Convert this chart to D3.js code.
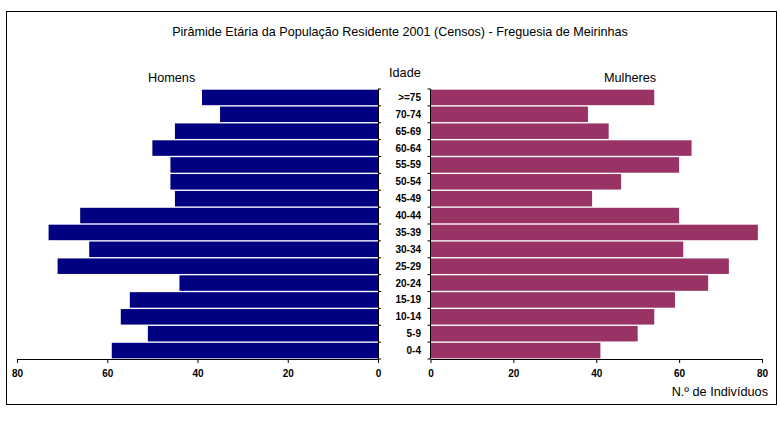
<!DOCTYPE html>
<html><head><meta charset="utf-8">
<script src="https://cdn.jsdelivr.net/npm/d3@7"></script>
<style>body{margin:0;background:#fff}svg{display:block}text{font-family:"Liberation Sans",Arial,sans-serif}</style>
</head><body>
<svg id="c" width="780" height="425"></svg>
<script>
const ages = [">=75","70-74","65-69","60-64","55-59","50-54","45-49","40-44","35-39","30-34","25-29","20-24","15-19","10-14","5-9","0-4"];
const homens   = [39,35,45,50,46,46,45,66,73,64,71,44,55,57,51,59];
const mulheres = [54,38,43,63,60,46,39,60,79,61,72,67,59,54,50,41];
const xTicks = [0,20,40,60,80];
const title = "Pirâmide Etária da População Residente 2001 (Censos) - Freguesia de Meirinhas";

const svg = d3.select("#c");
svg.append("rect").attr("x",6.5).attr("y",11.5).attr("width",770).attr("height",393)
  .attr("fill","#fff").attr("stroke","#000").attr("stroke-width",1);

svg.append("text").attr("x",400).attr("y",36).attr("text-anchor","middle")
  .attr("font-size",12.6).text(title);

const y = d3.scaleBand().domain(ages).range([89,359]).paddingInner(0.08).paddingOuter(0.04);
const xL = d3.scaleLinear().domain([0,80]).range([378,17]);
const xR = d3.scaleLinear().domain([0,80]).range([430.5,762]);

svg.append("g").selectAll("rect").data(ages).join("rect")
  .attr("x",(d,i)=>xL(homens[i])).attr("y",d=>y(d))
  .attr("width",(d,i)=>xL(0)-xL(homens[i])).attr("height",y.bandwidth())
  .attr("fill","#000080");
svg.append("g").selectAll("rect").data(ages).join("rect")
  .attr("x",xR(0)).attr("y",d=>y(d))
  .attr("width",(d,i)=>xR(mulheres[i])-xR(0)).attr("height",y.bandwidth())
  .attr("fill","#993366");

const yBottom = 359;
const axL = svg.append("g").attr("transform",`translate(0,${yBottom})`)
  .call(d3.axisBottom(xL).tickValues(xTicks).tickSize(4).tickSizeOuter(0).tickFormat(d3.format("d")));
const axR = svg.append("g").attr("transform",`translate(0,${yBottom})`)
  .call(d3.axisBottom(xR).tickValues(xTicks).tickSize(4).tickSizeOuter(0).tickFormat(d3.format("d")));
[axL,axR].forEach(a=>{
  a.selectAll("text").attr("font-size",10).attr("font-weight","bold").attr("fill","#000")
   .attr("font-family","'Liberation Sans',Arial,sans-serif").attr("dy","1.1em");
  a.select(".domain").attr("stroke","#000");
  a.selectAll(".tick line").attr("stroke","#000");
});

// vertical category axes
const step = y.step();
const bounds = ages.map(d=>y(d)-(step-y.bandwidth())/2).concat([yBottom]);
svg.append("line").attr("x1",xL(0)+0.5).attr("x2",xL(0)+0.5).attr("y1",bounds[0]).attr("y2",yBottom).attr("stroke","#000");
svg.append("line").attr("x1",xR(0)).attr("x2",xR(0)).attr("y1",bounds[0]).attr("y2",yBottom).attr("stroke","#000");
svg.append("g").selectAll("line").data(bounds).join("line")
  .attr("x1",xL(0)).attr("x2",xL(0)+3).attr("y1",d=>d).attr("y2",d=>d).attr("stroke","#000");
svg.append("g").selectAll("line").data(bounds).join("line")
  .attr("x1",xR(0)-3).attr("x2",xR(0)).attr("y1",d=>d).attr("y2",d=>d).attr("stroke","#000");

svg.append("g").selectAll("text").data(ages).join("text")
  .attr("x",421).attr("y",d=>y(d)+y.bandwidth()/2).attr("dy","0.35em")
  .attr("text-anchor","end").attr("font-size",10).attr("font-weight","bold").text(d=>d);

svg.append("text").attr("x",148).attr("y",82).attr("font-size",12.7).text("Homens");
svg.append("text").attr("x",389).attr("y",77).attr("font-size",12.7).text("Idade");
svg.append("text").attr("x",604).attr("y",82).attr("font-size",12.7).text("Mulheres");
svg.append("text").attr("x",768).attr("y",396).attr("text-anchor","end").attr("font-size",12.7).text("N.º de Indivíduos");
</script>
</body></html>
